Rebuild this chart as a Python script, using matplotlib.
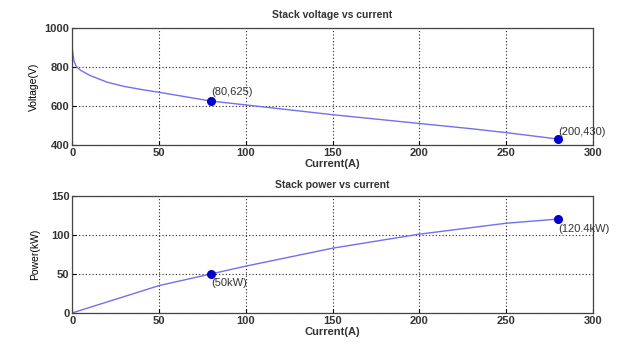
import matplotlib
matplotlib.use("Agg")
import matplotlib.pyplot as plt

plt.rcParams['font.family'] = ['Liberation Sans', 'DejaVu Sans']

# Voltage vs current
current_v = [0, 0.5, 1, 2, 3, 5, 10, 20, 30, 40, 50, 60, 70, 80, 100, 120, 150, 180, 200, 230, 250, 280]
voltage = [900, 860, 830, 808, 796, 782, 757, 722, 700, 684, 670, 655, 640, 625, 605, 585, 555, 528, 510, 483, 463, 430]
v_marks_x = [80, 280]
v_marks_y = [625, 430]
v_labels = ["(80,625)", "(200,430)"]

# Power vs current
current_p = [0, 20, 50, 80, 100, 150, 200, 250, 280]
power = [0, 14, 35, 50, 60, 83, 101, 115, 120.4]
p_marks_x = [80, 280]
p_marks_y = [50, 120.4]
p_labels = ["(50kW)", "(120.4kW)"]

xticks = [0, 50, 100, 150, 200, 250, 300]
v_yticks = [400, 600, 800, 1000]
p_yticks = [0, 50, 100, 150]

fig = plt.figure(figsize=(6.28, 3.45), dpi=100)
ax1 = fig.add_axes([0.115, 0.580, 0.829, 0.339])
ax2 = fig.add_axes([0.115, 0.093, 0.829, 0.339])

line_c = '#7070f0'
mark_c = '#0000cc'

for ax in (ax1, ax2):
    ax.set_xlim(0, 300)
    ax.set_xticks(xticks)
    ax.grid(True, linestyle=(0, (1, 2)), color='#222222', linewidth=0.8)
    ax.tick_params(labelsize=8, direction='in', length=3, pad=2)
    for lbl in ax.get_xticklabels() + ax.get_yticklabels():
        lbl.set_fontweight('bold')
        lbl.set_color('#333333')
    for s in ax.spines.values():
        s.set_color('#444444')
        s.set_linewidth(0.9)

ax1.plot(current_v, voltage, color=line_c, linewidth=1)
ax1.plot(v_marks_x, v_marks_y, 'o', color=mark_c, markersize=5.5)
ax1.set_ylim(400, 1000)
ax1.set_yticks(v_yticks)
for lbl in ax1.get_yticklabels():
    lbl.set_fontweight('bold'); lbl.set_color('#333333')
ax1.set_title("Stack voltage vs current", fontsize=7.5, fontweight='bold', pad=7, color='#333333')
ax1.set_xlabel("Current(A)", fontsize=8, fontweight='bold', labelpad=1, color='#333333')
ax1.set_ylabel("Voltage(V)", fontsize=7.5, labelpad=4)
ax1.annotate(v_labels[0], (v_marks_x[0], v_marks_y[0]), xytext=(0, 4), textcoords='offset points', fontsize=8, color='#333333')
ax1.annotate(v_labels[1], (v_marks_x[1], v_marks_y[1]), xytext=(0, 3), textcoords='offset points', fontsize=8, color='#333333')

ax2.plot(current_p, power, color=line_c, linewidth=1)
ax2.plot(p_marks_x, p_marks_y, 'o', color=mark_c, markersize=5.5)
ax2.set_ylim(0, 150)
ax2.set_yticks(p_yticks)
for lbl in ax2.get_yticklabels():
    lbl.set_fontweight('bold'); lbl.set_color('#333333')
ax2.set_title("Stack power vs current", fontsize=7.5, fontweight='bold', pad=6, color='#333333')
ax2.set_xlabel("Current(A)", fontsize=8, fontweight='bold', labelpad=1, color='#333333')
ax2.set_ylabel("Power(kW)", fontsize=7.5, labelpad=8)
ax2.annotate(p_labels[0], (p_marks_x[0], p_marks_y[0]), xytext=(0, -9), textcoords='offset points', fontsize=8, color='#333333')
ax2.annotate(p_labels[1], (p_marks_x[1], p_marks_y[1]), xytext=(0, -9), textcoords='offset points', fontsize=8, color='#333333')

fig.savefig("out.png", dpi=100)
